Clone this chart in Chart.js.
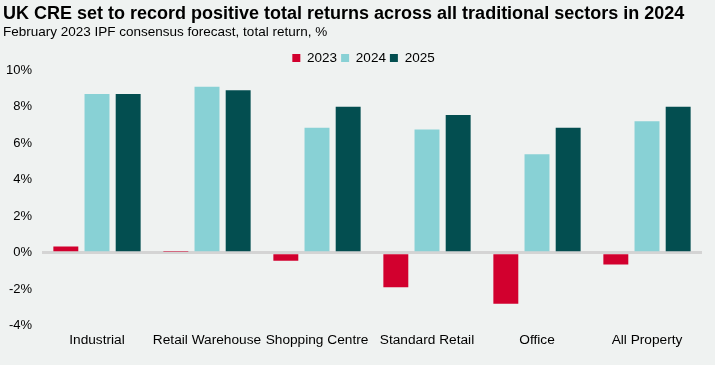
<!DOCTYPE html>
<html>
<head>
<meta charset="utf-8">
<script src="https://cdn.jsdelivr.net/npm/chart.js@4/dist/chart.umd.min.js"></script>
<style>
  html, body { margin: 0; padding: 0; background: #eff2f1; }
  #wrap { width: 715px; height: 365px; position: relative; }
</style>
</head>
<body>
<div id="wrap"><canvas id="c" width="715" height="365"></canvas></div>
<script>
const categories = ["Industrial", "Retail Warehouse", "Shopping Centre", "Standard Retail", "Office", "All Property"];
const seriesNames = ["2023", "2024", "2025"];
const values2023 = [0.33, 0.05, -0.45, -1.9, -2.8, -0.65];
const values2024 = [8.7, 9.1, 6.85, 6.75, 5.4, 7.2];
const values2025 = [8.7, 8.9, 8.0, 7.55, 6.85, 8.0];
const yTicks = [-4, -2, 0, 2, 4, 6, 8, 10];

const colors = ["#d2002e", "#88d1d5", "#034e50"];
const FONT = "'Liberation Sans', Arial, sans-serif";

const shiftLegend = {
  id: 'shiftLegend',
  afterLayout(chart) {
    if (chart.legend) { chart.legend.left += 11; chart.legend.right += 11; }
  }
};

new Chart(document.getElementById('c'), {
  type: 'bar',
  data: {
    labels: categories,
    datasets: [values2023, values2024, values2025].map((d, i) => ({
      label: seriesNames[i],
      data: d,
      backgroundColor: colors[i],
      borderWidth: 0,
      barPercentage: 0.8,
      categoryPercentage: 0.85
    }))
  },
  plugins: [shiftLegend],
  options: {
    responsive: false,
    animation: false,
    layout: { padding: { left: 3, right: 13, top: 0, bottom: 17 } },
    plugins: {
      title: {
        display: true,
        text: 'UK CRE set to record positive total returns across all traditional sectors in 2024',
        align: 'start',
        color: '#000',
        font: { family: FONT, size: 18, weight: 'bold' },
        padding: { top: 3, bottom: 0 }
      },
      subtitle: {
        display: true,
        text: 'February 2023 IPF consensus forecast, total return, %',
        align: 'start',
        color: '#000',
        font: { family: FONT, size: 13.5 },
        padding: { top: 0, bottom: 6.5 }
      },
      legend: {
        display: true,
        position: 'top',
        maxHeight: 23,
        labels: {
          boxWidth: 8,
          boxHeight: 8,
          padding: 4,
          color: '#000',
          font: { family: FONT, size: 13.5 }
        }
      },
      tooltip: { enabled: false }
    },
    scales: {
      x: {
        grid: { display: false, tickLength: 6 },
        border: { display: false },
        ticks: { color: '#000', font: { family: FONT, size: 13.7 }, padding: 0, maxRotation: 0, autoSkip: false }
      },
      y: {
        min: -4,
        max: 10,
        afterBuildTicks: (axis) => { axis.ticks = yTicks.map(v => ({ value: v })); },
        afterFit: (axis) => { axis.width = 39; },
        grid: {
          drawTicks: false,
          color: (ctx) => (ctx.tick && ctx.tick.value === 0) ? '#d4d4d4' : 'rgba(0,0,0,0)',
          lineWidth: (ctx) => (ctx.tick && ctx.tick.value === 0) ? 3 : 0
        },
        border: { display: false },
        ticks: {
          color: '#000',
          padding: 10,
          font: { family: FONT, size: 13 },
          callback: (v) => v + '%'
        }
      }
    }
  }
});
</script>
</body>
</html>
